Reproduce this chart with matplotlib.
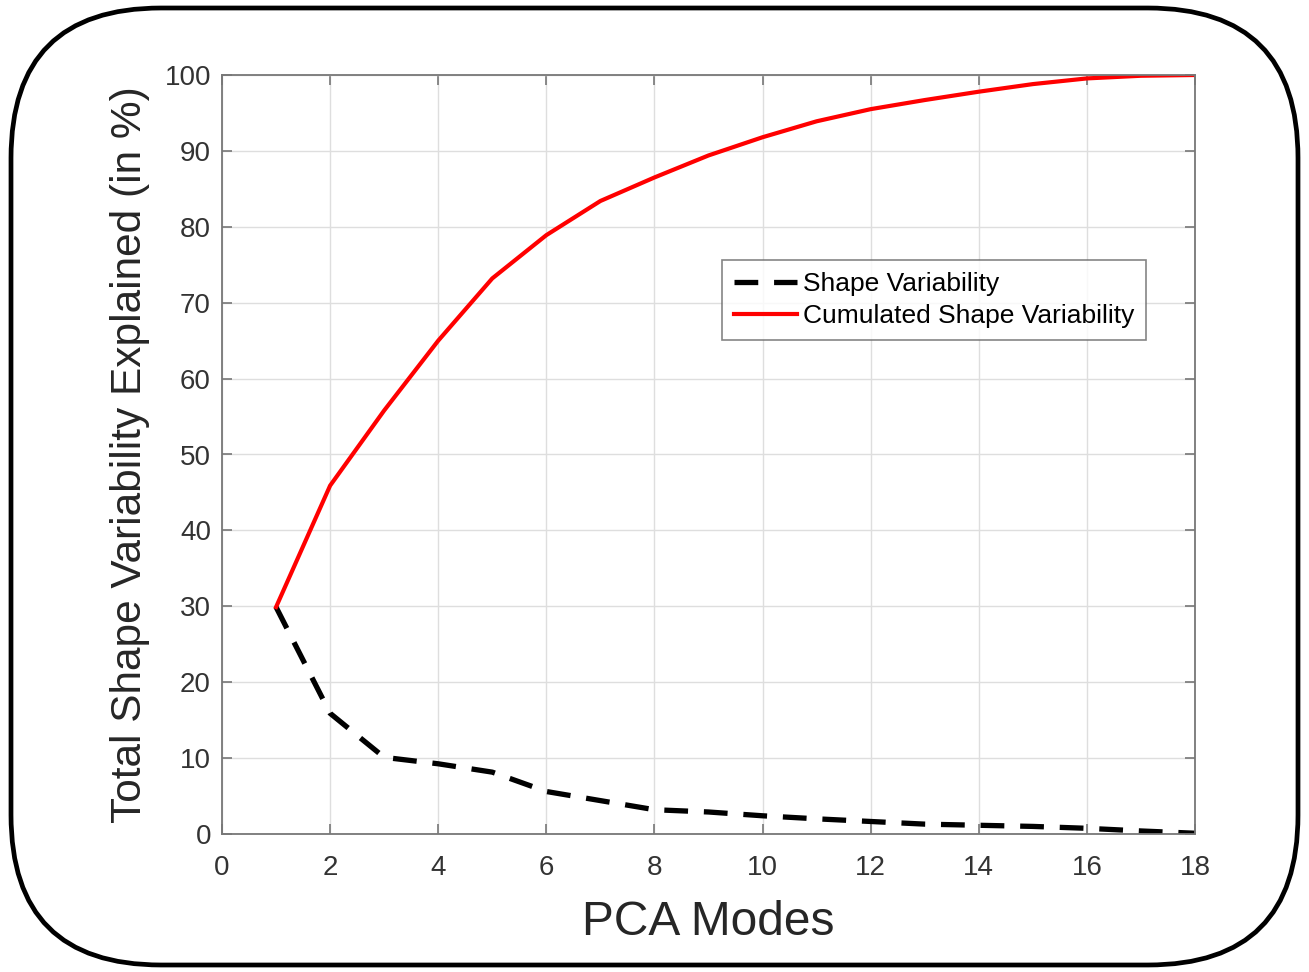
import matplotlib
matplotlib.use("Agg")
import matplotlib.pyplot as plt
from matplotlib.patches import FancyBboxPatch

plt.rcParams['font.family'] = ['Liberation Sans', 'DejaVu Sans']

# PCA modes and explained variability (in %)
modes = [1, 2, 3, 4, 5, 6, 7, 8, 9, 10, 11, 12, 13, 14, 15, 16, 17, 18]
shape_var = [29.9, 15.9, 10.1, 9.25, 8.15, 5.6, 4.4, 3.2, 2.9, 2.4, 2.0, 1.65,
             1.3, 1.15, 1.0, 0.75, 0.4, 0.1]
cum_var = [29.9, 45.9, 55.8, 65.0, 73.2, 78.9, 83.4, 86.5, 89.4, 91.8, 93.9,
           95.5, 96.7, 97.8, 98.8, 99.55, 99.9, 100.0]

xticks = list(range(0, 19, 2))
yticks = list(range(0, 101, 10))

fig = plt.figure(figsize=(13.09, 9.72), dpi=100)

# rounded frame around the whole figure
bg = fig.add_axes([0, 0, 1, 1])
bg.set_xlim(0, 1309)
bg.set_ylim(0, 972)
bg.axis('off')
bg.add_patch(FancyBboxPatch((11, 7), 1287, 957,
                            boxstyle="round,pad=0,rounding_size=150",
                            fill=False, ec='black', lw=3.4))

ax = fig.add_axes([222/1309, 1-834/972, (1195-222)/1309, (834-75)/972])
ax.plot(modes, shape_var, color='black', lw=3.8, dashes=(4.5, 3),
        label='Shape Variability')
ax.plot(modes, cum_var, color='red', lw=3.0, label='Cumulated Shape Variability')

ax.set_xlim(0, 18)
ax.set_ylim(0, 100)
ax.set_xticks(xticks)
ax.set_yticks(yticks)
ax.grid(True, color='#dedede', lw=1.0)
ax.set_axisbelow(True)
ax.tick_params(direction='in', top=True, right=True, length=7, width=1.2,
               colors='#777777', labelcolor='#333333', labelsize=20, pad=8)
ax.tick_params(axis='x', pad=15)
for s in ax.spines.values():
    s.set_color('#777777')
    s.set_linewidth(1.3)

ax.set_xlabel('PCA Modes', fontsize=34.5, color='#262626', labelpad=14)
ax.set_ylabel('Total Shape Variability Explained (in %)', fontsize=30.5,
              color='#262626', labelpad=10)

leg = ax.legend(loc='upper left', bbox_to_anchor=(0.514, 0.756), fontsize=19,
                frameon=True, fancybox=False, edgecolor='#666666',
                handlelength=2.4, handletextpad=0.2, borderpad=0.45,
                labelspacing=0.3, borderaxespad=0)
leg.get_frame().set_linewidth(1.2)

fig.savefig('out.png', dpi=100)
